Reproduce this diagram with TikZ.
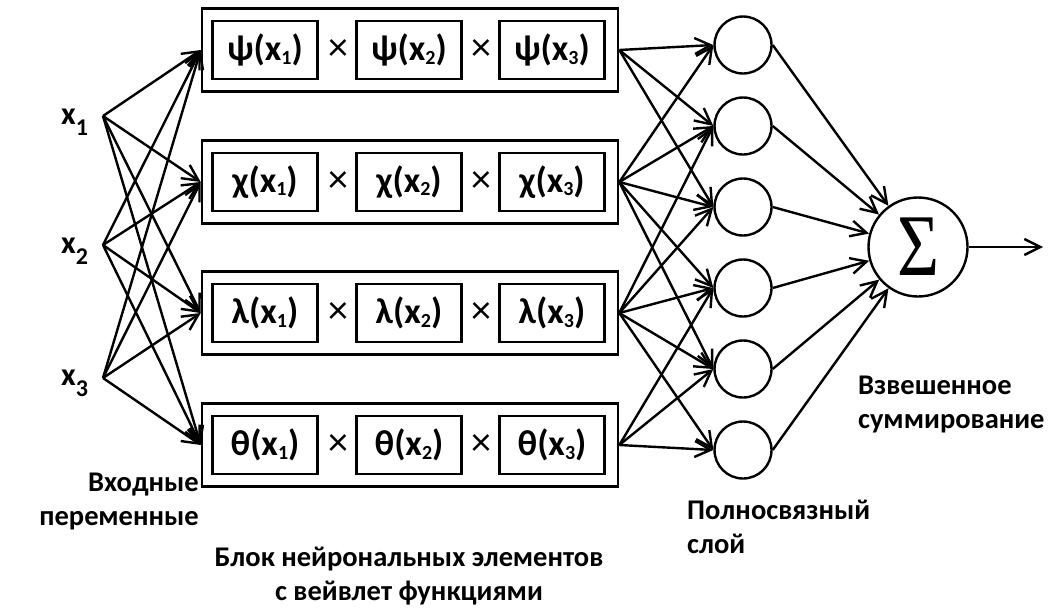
\documentclass[tikz,border=0pt]{standalone}
\usepackage{fontspec}
\setmainfont{Carlito}
\newfontfamily\sigmafont{Liberation Serif}
\usetikzlibrary{arrows.meta}

% subscripts: small ones inside the boxes, larger ones for the inputs
\newcommand{\bsub}[1]{\raisebox{-0.1em}{\fontsize{20}{20}\selectfont #1}}
\newcommand{\xsub}[1]{\raisebox{-0.37em}{\fontsize{24}{24}\selectfont #1}}

\tikzset{
  outerbox/.style={draw, line width=2.6pt, minimum width=416pt, minimum height=83pt},
  innerbox/.style={draw, line width=2.4pt, minimum width=105pt, minimum height=58pt,
    inner sep=0pt, font=\fontsize{36}{36}\selectfont\bfseries},
  times/.style={inner sep=0pt, font=\fontsize{40}{40}\selectfont},
  neuron/.style={draw, circle, line width=2.4pt, minimum size=57pt, inner sep=0pt},
  conn/.style={line width=2.4pt, -{Straight Barb[length=16pt,width=16pt]}},
  xlab/.style={inner sep=0pt, font=\fontsize{32}{32}\selectfont\bfseries},
  caption/.style={inner sep=0pt, font=\fontsize{28.5}{34}\selectfont\bfseries}
}

\begin{document}
\begin{tikzpicture}[x=1pt,y=-1pt]

\useasboundingbox (0,0) rectangle (1051,608);

%% Input variables
\node [xlab, anchor=base west] (lx1) at (61,124) {x\xsub{1}};
\node [xlab, anchor=base west] (lx2) at (61,253) {x\xsub{2}};
\node [xlab, anchor=base west] (lx3) at (61,385) {x\xsub{3}};
\coordinate (in1) at (103,116);
\coordinate (in2) at (103,245);
\coordinate (in3) at (103,378);

%% Block of wavelet neurons, row 1
\node [outerbox] (b1) at (410,50) {};
\node [innerbox] (b1a) at (265,50) {ψ(x\bsub{1})};
\node [times] (t1a) at (338,50) {×};
\node [innerbox] (b1b) at (409,50) {ψ(x\bsub{2})};
\node [times] (t1b) at (481,50) {×};
\node [innerbox] (b1c) at (552,50) {ψ(x\bsub{3})};

%% row 2
\node [outerbox] (b2) at (410,182) {};
\node [innerbox] (b2a) at (265,182) {χ(x\bsub{1})};
\node [times] (t2a) at (338,182) {×};
\node [innerbox] (b2b) at (409,182) {χ(x\bsub{2})};
\node [times] (t2b) at (481,182) {×};
\node [innerbox] (b2c) at (552,182) {χ(x\bsub{3})};

%% row 3
\node [outerbox] (b3) at (410,313) {};
\node [innerbox] (b3a) at (265,313) {λ(x\bsub{1})};
\node [times] (t3a) at (338,313) {×};
\node [innerbox] (b3b) at (409,313) {λ(x\bsub{2})};
\node [times] (t3b) at (481,313) {×};
\node [innerbox] (b3c) at (552,313) {λ(x\bsub{3})};

%% row 4
\node [outerbox] (b4) at (410,445) {};
\node [innerbox] (b4a) at (265,445) {θ(x\bsub{1})};
\node [times] (t4a) at (338,445) {×};
\node [innerbox] (b4b) at (409,445) {θ(x\bsub{2})};
\node [times] (t4b) at (481,445) {×};
\node [innerbox] (b4c) at (552,445) {θ(x\bsub{3})};

%% Fully connected layer
\node [neuron] (h1) at (743,45) {};
\node [neuron] (h2) at (743,126) {};
\node [neuron] (h3) at (743,207) {};
\node [neuron] (h4) at (743,288) {};
\node [neuron] (h5) at (743,369) {};
\node [neuron] (h6) at (743,450) {};

%% Weighted sum
\node [neuron, minimum size=99pt] (sum) at (918,247)
  {\scalebox{0.82}[1]{\sigmafont\fontsize{88}{88}\selectfont Σ}};
\coordinate (out) at (1043,247);

%% inputs -> blocks
\draw [conn] (in1) -- (b1.west); \draw [conn] (in1) -- (b2.west);
\draw [conn] (in1) -- (b3.west); \draw [conn] (in1) -- (b4.west);
\draw [conn] (in2) -- (b1.west); \draw [conn] (in2) -- (b2.west);
\draw [conn] (in2) -- (b3.west); \draw [conn] (in2) -- (b4.west);
\draw [conn] (in3) -- (b1.west); \draw [conn] (in3) -- (b2.west);
\draw [conn] (in3) -- (b3.west); \draw [conn] (in3) -- (b4.west);

%% blocks -> layer
\draw [conn] (b1.east) -- (h1.west); \draw [conn] (b1.east) -- (h2.west);
\draw [conn] (b1.east) -- (h3.west);
\draw [conn] (b2.east) -- (h1.west); \draw [conn] (b2.east) -- (h2.west);
\draw [conn] (b2.east) -- (h3.west); \draw [conn] (b2.east) -- (h4.west);
\draw [conn] (b2.east) -- (h5.west);
\draw [conn] (b3.east) -- (h2.west); \draw [conn] (b3.east) -- (h3.west);
\draw [conn] (b3.east) -- (h4.west); \draw [conn] (b3.east) -- (h5.west);
\draw [conn] (b3.east) -- (h6.west);
\draw [conn] (b4.east) -- (h4.west); \draw [conn] (b4.east) -- (h5.west);
\draw [conn] (b4.east) -- (h6.west);

%% layer -> sum -> output
\draw [conn] (h1.east) -- (sum); \draw [conn] (h2.east) -- (sum);
\draw [conn] (h3.east) -- (sum); \draw [conn] (h4.east) -- (sum);
\draw [conn] (h5.east) -- (sum); \draw [conn] (h6.east) -- (sum);
\draw [conn] (sum) -- (out);

%% Captions (base = last line)
\node [caption, align=right, anchor=base east] (cin) at (199,525) {Входные\\переменные};
\node [caption, align=center, anchor=base] (cblock) at (409,600) {Блок нейрональных элементов\\с вейвлет функциями};
\node [caption, align=left, anchor=base west] (clayer) at (687,553) {Полносвязный\\слой};
\node [caption, align=left, anchor=base west] (csum) at (858,428) {Взвешенное\\суммирование};

\end{tikzpicture}
\end{document}
